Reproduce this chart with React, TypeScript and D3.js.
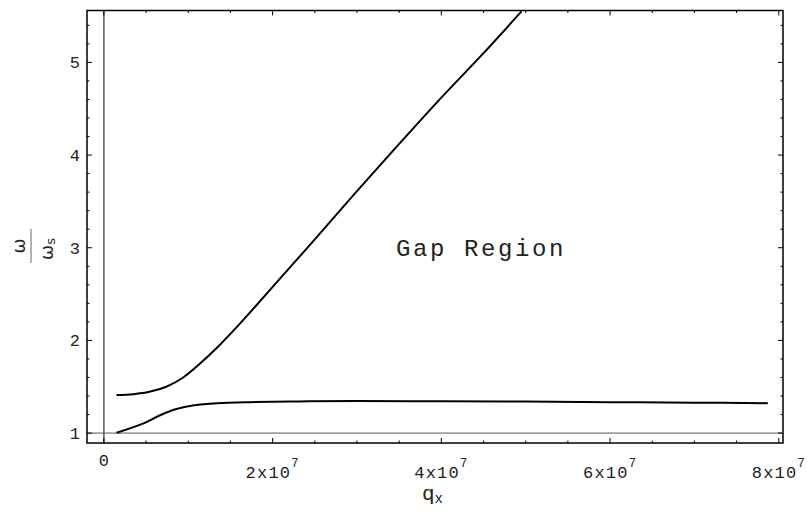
import React from 'react';
import * as d3 from 'd3';

// upper branch (omega / omega_s) vs q_x
const upperQ = [1.5e6, 3.5e6, 5.4e6, 7.4e6, 9.4e6, 1.14e7, 1.34e7, 1.53e7, 1.73e7, 1.93e7, 2.1e7, 2.5e7, 3.0e7, 3.5e7, 4.0e7, 4.5e7, 4.95e7];
const upperW = [1.41, 1.42, 1.445, 1.50, 1.60, 1.75, 1.92, 2.10, 2.30, 2.505, 2.68, 3.09, 3.61, 4.12, 4.62, 5.10, 5.55];

// lower branch
const lowerQ = [1.5e6, 4.7e6, 6.6e6, 8.6e6, 1.07e7, 1.34e7, 1.73e7, 2.32e7, 3.0e7, 4.0e7, 5.0e7, 6.0e7, 7.0e7, 7.87e7];
const lowerW = [1.003, 1.105, 1.19, 1.26, 1.30, 1.322, 1.334, 1.342, 1.345, 1.344, 1.341, 1.334, 1.328, 1.323];

const xMajor = [0, 2e7, 4e7, 6e7, 8e7];
const xLabels = [['0', ''], ['2x10', '7'], ['4x10', '7'], ['6x10', '7'], ['8x10', '7']];
const yMajor = [1, 2, 3, 4, 5];

const W = 807;
const H = 512;
const frame = { left: 87, right: 783, top: 10.5, bottom: 443 };
const mono = '"Liberation Mono", "Courier New", monospace';

const App = () => {
    const x = d3.scaleLinear().domain([-2.0e6, 8.05e7]).range([frame.left, frame.right]);
    const y = d3.scaleLinear().domain([0.893, 5.56]).range([frame.bottom, frame.top]);

    const xMinor = d3.range(5e6, 8.05e7, 5e6).filter(v => !xMajor.includes(v));
    const yMinor = d3.range(1.2, 5.56, 0.2).filter(v => Math.abs(v - Math.round(v)) > 0.01);

    const line = d3.line<[number, number]>()
        .x(d => x(d[0]))
        .y(d => y(d[1]))
        .curve(d3.curveCatmullRom.alpha(0.5));

    const upper = line(upperQ.map((q, i) => [q, upperW[i]]));
    const lower = line(lowerQ.map((q, i) => [q, lowerW[i]]));

    const major = 5;
    const minor = 2.5;

    return (
        <svg width={W} height={H} style={{ position: 'absolute', left: 0, top: 0, background: '#fff' }}>
            {/* axes through the origin */}
            <line x1={x(0)} x2={x(0)} y1={frame.top} y2={frame.bottom} stroke="#555" strokeWidth={1.5} />
            <line x1={frame.left} x2={frame.right} y1={y(1)} y2={y(1)} stroke="#555" strokeWidth={1} />

            <clipPath id="plotClip">
                <rect x={frame.left} y={frame.top} width={frame.right - frame.left} height={frame.bottom - frame.top} />
            </clipPath>
            <g clipPath="url(#plotClip)" fill="none" stroke="#000" strokeWidth={2}>
                <path d={upper ?? ''} />
                <path d={lower ?? ''} />
            </g>

            {/* frame ticks */}
            <g stroke="#000" strokeWidth={1}>
                {xMajor.map(v => (
                    <g key={'xM' + v}>
                        <line x1={x(v)} x2={x(v)} y1={frame.bottom} y2={frame.bottom - major} />
                        <line x1={x(v)} x2={x(v)} y1={frame.top} y2={frame.top + major} />
                    </g>
                ))}
                {xMinor.map(v => (
                    <g key={'xm' + v}>
                        <line x1={x(v)} x2={x(v)} y1={frame.bottom} y2={frame.bottom - minor} />
                        <line x1={x(v)} x2={x(v)} y1={frame.top} y2={frame.top + minor} />
                    </g>
                ))}
                {yMajor.map(v => (
                    <g key={'yM' + v}>
                        <line x1={frame.left} x2={frame.left + major} y1={y(v)} y2={y(v)} />
                        <line x1={frame.right} x2={frame.right - major} y1={y(v)} y2={y(v)} />
                    </g>
                ))}
                {yMinor.map(v => (
                    <g key={'ym' + v}>
                        <line x1={frame.left} x2={frame.left + minor} y1={y(v)} y2={y(v)} />
                        <line x1={frame.right} x2={frame.right - minor} y1={y(v)} y2={y(v)} />
                    </g>
                ))}
            </g>
            <rect x={frame.left} y={frame.top} width={frame.right - frame.left} height={frame.bottom - frame.top}
                fill="none" stroke="#000" strokeWidth={1.5} />

            {/* tick labels */}
            <g fontFamily={mono} fontSize={17} fill="#222">
                {yMajor.map(v => (
                    <text key={'yl' + v} x={frame.left - 7} y={y(v)} dy="0.35em" textAnchor="end">{v}</text>
                ))}
                {xMajor.map((v, i) => (
                    xLabels[i][1] === ''
                        ? <text key={'xl' + v} x={x(v)} y={466} textAnchor="middle">{xLabels[i][0]}</text>
                        : <text key={'xl' + v} x={x(v)} y={478} textAnchor="middle" letterSpacing={1.2}>
                            {xLabels[i][0]}
                            <tspan fontSize={12} dy={-11}>{xLabels[i][1]}</tspan>
                        </text>
                ))}
            </g>

            {/* axis labels */}
            <text x={422} y={500} fontFamily={mono} fontSize={21} fill="#222">q<tspan fontSize={14} dy={3}>x</tspan></text>
            <g transform="translate(34,246) rotate(-90)" fontFamily='"DejaVu Sans", sans-serif' fill="#222">
                <text x={0} y={-9} fontSize={18} textAnchor="middle">ω</text>
                <line x1={-17} x2={17} y1={-3} y2={-3} stroke="#666" strokeWidth={1} />
                <text x={-3} y={19} fontSize={18} textAnchor="middle">ω<tspan fontSize={13} dy={2}>s</tspan></text>
            </g>

            <text x={481} y={256} fontFamily={mono} fontSize={24} letterSpacing={2.6} textAnchor="middle" fill="#222">Gap Region</text>
        </svg>
    );
};

export default App;
